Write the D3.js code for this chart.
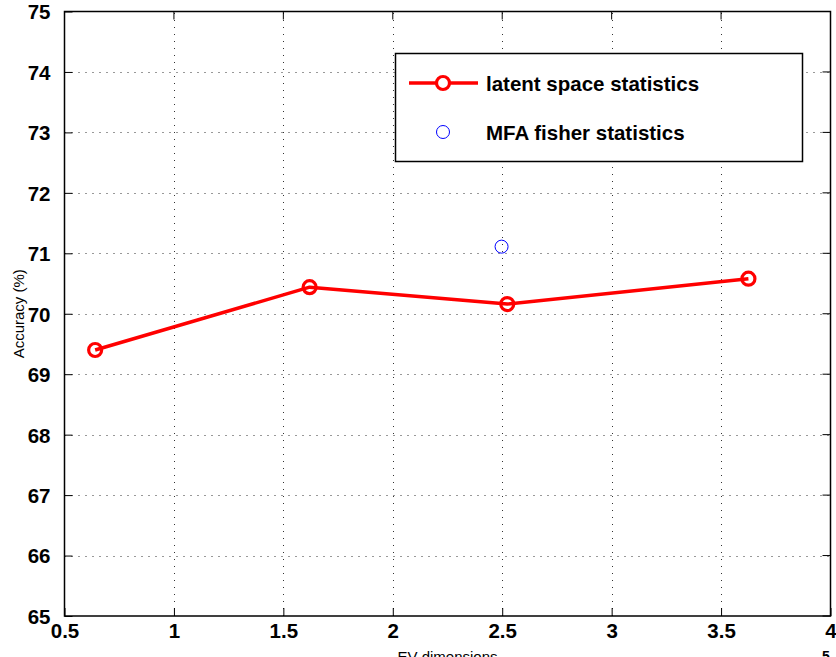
<!DOCTYPE html>
<html>
<head>
<meta charset="utf-8">
<script src="https://cdn.jsdelivr.net/npm/d3@7"></script>
<style>
  html, body { margin: 0; padding: 0; background: #fff; }
  svg { display: block; }
  text { font-family: "Liberation Sans", Arial, Helvetica, sans-serif; }
</style>
</head>
<body>
<svg id="chart" width="836" height="657"></svg>
<script>
// EV dimensions (x 10^5) and accuracy (%)
const latentDims = [0.64, 1.62, 2.523, 3.625];
const latentAcc = [69.40, 70.44, 70.16, 70.58];
const mfaDims = [2.497];
const mfaAcc = [71.11];
const xTicks = [0.5, 1, 1.5, 2, 2.5, 3, 3.5, 4];
const yTicks = [65, 66, 67, 68, 69, 70, 71, 72, 73, 74, 75];
const seriesNames = ["latent space statistics", "MFA fisher statistics"];

const svg = d3.select("#chart");
const margin = { left: 64.5, right: 5.5, top: 11.5, bottom: 41 };
const W = 836, H = 657;

const x = d3.scaleLinear().domain([0.5, 4]).range([margin.left, W - margin.right]);
const y = d3.scaleLinear().domain([65, 75]).range([H - margin.bottom, margin.top]);

// dotted grid
const grid = svg.append("g").attr("stroke", "#333").attr("stroke-width", 1)
  .attr("stroke-dasharray", "1,6");
grid.selectAll("line.v").data(xTicks.slice(1, -1)).join("line")
  .attr("x1", d => Math.round(x(d)) + 0.5).attr("x2", d => Math.round(x(d)) + 0.5)
  .attr("y1", y(65)).attr("y2", y(75));
grid.selectAll("line.h").data(yTicks.slice(1, -1)).join("line")
  .attr("y1", d => Math.round(y(d)) + 0.5).attr("y2", d => Math.round(y(d)) + 0.5)
  .attr("x1", x(0.5)).attr("x2", x(4));

// axes with inward ticks
const tickLen = 8;
const xAxis = d3.axisBottom(x).tickValues(xTicks).tickSizeInner(-tickLen).tickSizeOuter(0)
  .tickPadding(tickLen + 4).tickFormat(d3.format("~g"));
const yAxis = d3.axisLeft(y).tickValues(yTicks).tickSizeInner(-tickLen).tickSizeOuter(0)
  .tickPadding(tickLen + 6).tickFormat(d3.format("~g"));

const gx = svg.append("g").attr("transform", `translate(0,${y(65)})`).call(xAxis);
const gy = svg.append("g").attr("transform", `translate(${x(0.5)},0)`).call(yAxis);
[gx, gy].forEach(g => {
  g.select(".domain").remove();
  g.selectAll("line").attr("stroke", "#000").attr("stroke-width", 1);
  g.selectAll("text").attr("fill", "#000").attr("font-size", 20.5).attr("font-weight", "bold");
});
gx.selectAll("text").attr("dy", "0.5em");
gy.selectAll("text").attr("dy", "0.36em");

// top and right ticks
svg.append("g").selectAll("line").data(xTicks).join("line")
  .attr("x1", d => x(d)).attr("x2", d => x(d))
  .attr("y1", y(75)).attr("y2", y(75) + tickLen).attr("stroke", "#000");
svg.append("g").selectAll("line").data(yTicks).join("line")
  .attr("x1", x(4)).attr("x2", x(4) - tickLen)
  .attr("y1", d => y(d)).attr("y2", d => y(d)).attr("stroke", "#000");

// plot frame
svg.append("rect")
  .attr("x", x(0.5)).attr("y", y(75))
  .attr("width", x(4) - x(0.5)).attr("height", y(65) - y(75))
  .attr("fill", "none").attr("stroke", "#000").attr("stroke-width", 1.5);

// latent space series
const line = d3.line().x(d => x(d[0])).y(d => y(d[1]));
const latent = d3.zip(latentDims, latentAcc);
svg.append("path").datum(latent).attr("d", line)
  .attr("fill", "none").attr("stroke", "#ff0000").attr("stroke-width", 3.5)
  .attr("stroke-linejoin", "round");
svg.append("g").selectAll("circle").data(latent).join("circle")
  .attr("cx", d => x(d[0])).attr("cy", d => y(d[1])).attr("r", 6.5)
  .attr("fill", "none").attr("stroke", "#ff0000").attr("stroke-width", 3.2);

// MFA fisher series
svg.append("g").selectAll("circle").data(d3.zip(mfaDims, mfaAcc)).join("circle")
  .attr("cx", d => x(d[0])).attr("cy", d => y(d[1])).attr("r", 6.5)
  .attr("fill", "none").attr("stroke", "#0000ff").attr("stroke-width", 1);

// legend
const lg = svg.append("g");
lg.append("rect").attr("x", 395.5).attr("y", 53.5).attr("width", 407).attr("height", 108)
  .attr("fill", "#fff").attr("stroke", "#000").attr("stroke-width", 1.5);
lg.append("line").attr("x1", 409).attr("x2", 478).attr("y1", 83).attr("y2", 83)
  .attr("stroke", "#ff0000").attr("stroke-width", 3.5);
lg.append("circle").attr("cx", 443).attr("cy", 83).attr("r", 6.5)
  .attr("fill", "#fff").attr("stroke", "#ff0000").attr("stroke-width", 3.2);
lg.append("circle").attr("cx", 443).attr("cy", 132).attr("r", 6.5)
  .attr("fill", "none").attr("stroke", "#0000ff").attr("stroke-width", 1);
lg.selectAll("text").data(seriesNames).join("text")
  .attr("x", 486).attr("y", (d, i) => 91 + i * 49)
  .attr("font-size", 20.5).attr("font-weight", "bold").attr("fill", "#000")
  .text(d => d);

// axis titles
svg.append("text").attr("transform", `translate(24,${(y(65) + y(75)) / 2}) rotate(-90)`)
  .attr("text-anchor", "middle").attr("font-size", 15).attr("fill", "#000")
  .text("Accuracy (%)");
svg.append("text").attr("x", (x(0.5) + x(4)) / 2).attr("y", 662)
  .attr("text-anchor", "middle").attr("font-size", 15).attr("fill", "#000")
  .text("EV dimensions");
// exponent of the x scale (x 10^5)
svg.append("text").attr("x", 826).attr("y", 661)
  .attr("text-anchor", "middle").attr("font-size", 14).attr("font-weight", "bold")
  .attr("fill", "#000").text("5");
</script>
</body>
</html>
